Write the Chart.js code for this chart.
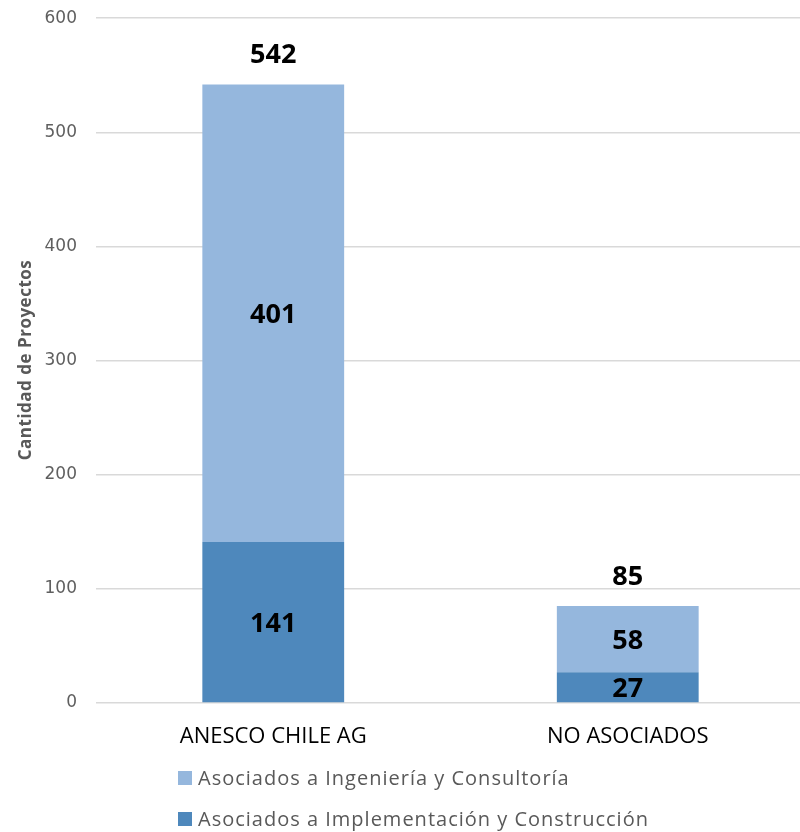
<!DOCTYPE html>
<html><head><meta charset="utf-8">
<script src="https://cdn.jsdelivr.net/npm/chart.js@4/dist/chart.umd.min.js"></script>
<style>html,body{margin:0;padding:0;background:#fff;overflow:hidden}#wrap{width:800px;height:832px;position:relative;overflow:hidden}#c{position:absolute;left:0;top:-11px}</style>
</head><body><div id="wrap"><canvas id="c" width="805" height="843"></canvas></div>
<script>
const categories = ["ANESCO CHILE AG", "NO ASOCIADOS"];
const implementacion = [141, 27];
const ingenieria = [401, 58];
const totals = [542, 85];
const seriesLabels = ["Asociados a Implementación y Construcción", "Asociados a Ingeniería y Consultoría"];
const yTicks = [0, 100, 200, 300, 400, 500, 600];
const yTitle = 'Cantidad de Proyectos';

const DARK = '#4e88bc', LIGHT = '#95b7dd';
const OFF = 11;

const labelPlugin = {
  id: 'labels',
  afterDatasetsDraw(chart) {
    const ctx = chart.ctx;
    ctx.save();
    ctx.font = 'bold 27px "Open Sans", sans-serif';
    ctx.fillStyle = '#000';
    ctx.textAlign = 'center';
    ctx.textBaseline = 'middle';
    chart.data.datasets.forEach((ds, di) => {
      const meta = chart.getDatasetMeta(di);
      meta.data.forEach((bar, i) => {
        const y = (bar.y + bar.base) / 2;
        ctx.fillText(String(ds.data[i]), bar.x, y + 2);
      });
    });
    const top = chart.getDatasetMeta(1);
    top.data.forEach((bar, i) => {
      ctx.fillText(String(totals[i]), bar.x, bar.y - 29);
    });
    // legend (vertical, light first)
    const items = [[seriesLabels[1], LIGHT], [seriesLabels[0], DARK]];
    ctx.font = '20px "Open Sans", sans-serif';
    ctx.letterSpacing = '1px';
    ctx.textAlign = 'left';
    items.forEach((it, k) => {
      const y = 778 + OFF + k * 41;
      ctx.fillStyle = it[1];
      ctx.fillRect(178, y - 7, 14, 14);
      ctx.fillStyle = '#595959';
      ctx.fillText(it[0], 198, y + 1);
    });
    // y axis title
    ctx.font = 'bold 17px "Open Sans", sans-serif';
    ctx.letterSpacing = '0.5px';
    ctx.textAlign = 'center';
    ctx.translate(26, 360 + OFF);
    ctx.rotate(-Math.PI / 2);
    ctx.fillText(yTitle, 0, 0);
    ctx.restore();
  }
};

new Chart(document.getElementById('c'), {
  type: 'bar',
  data: {
    labels: categories,
    datasets: [
      { label: seriesLabels[0], data: implementacion, backgroundColor: DARK, barPercentage: 0.4, categoryPercentage: 1 },
      { label: seriesLabels[1], data: ingenieria, backgroundColor: LIGHT, barPercentage: 0.4, categoryPercentage: 1 }
    ]
  },
  options: {
    responsive: false,
    animation: false,
    layout: { padding: { top: 0, right: 0, bottom: 0, left: 0 } },
    plugins: { legend: { display: false }, tooltip: { enabled: false } },
    scales: {
      x: {
        stacked: true,
        grid: { display: false },
        border: { display: false },
        ticks: { color: '#000', font: { size: 22, family: '"Open Sans", sans-serif' }, padding: 13 },
        afterFit(axis) { axis.height = 129; }
      },
      y: {
        stacked: true,
        min: 0, max: 600,
        afterBuildTicks(axis) { axis.ticks = yTicks.map(v => ({ value: v })); },
        afterFit(axis) { axis.width = 96; },
        grid: { color: '#d9d9d9', lineWidth: 1.5, drawTicks: false },
        border: { display: false },
        ticks: { color: '#5f5f5f', font: { size: 17, family: '"DejaVu Sans", sans-serif' }, padding: 19 }
      }
    }
  },
  plugins: [labelPlugin]
});
</script></body></html>
